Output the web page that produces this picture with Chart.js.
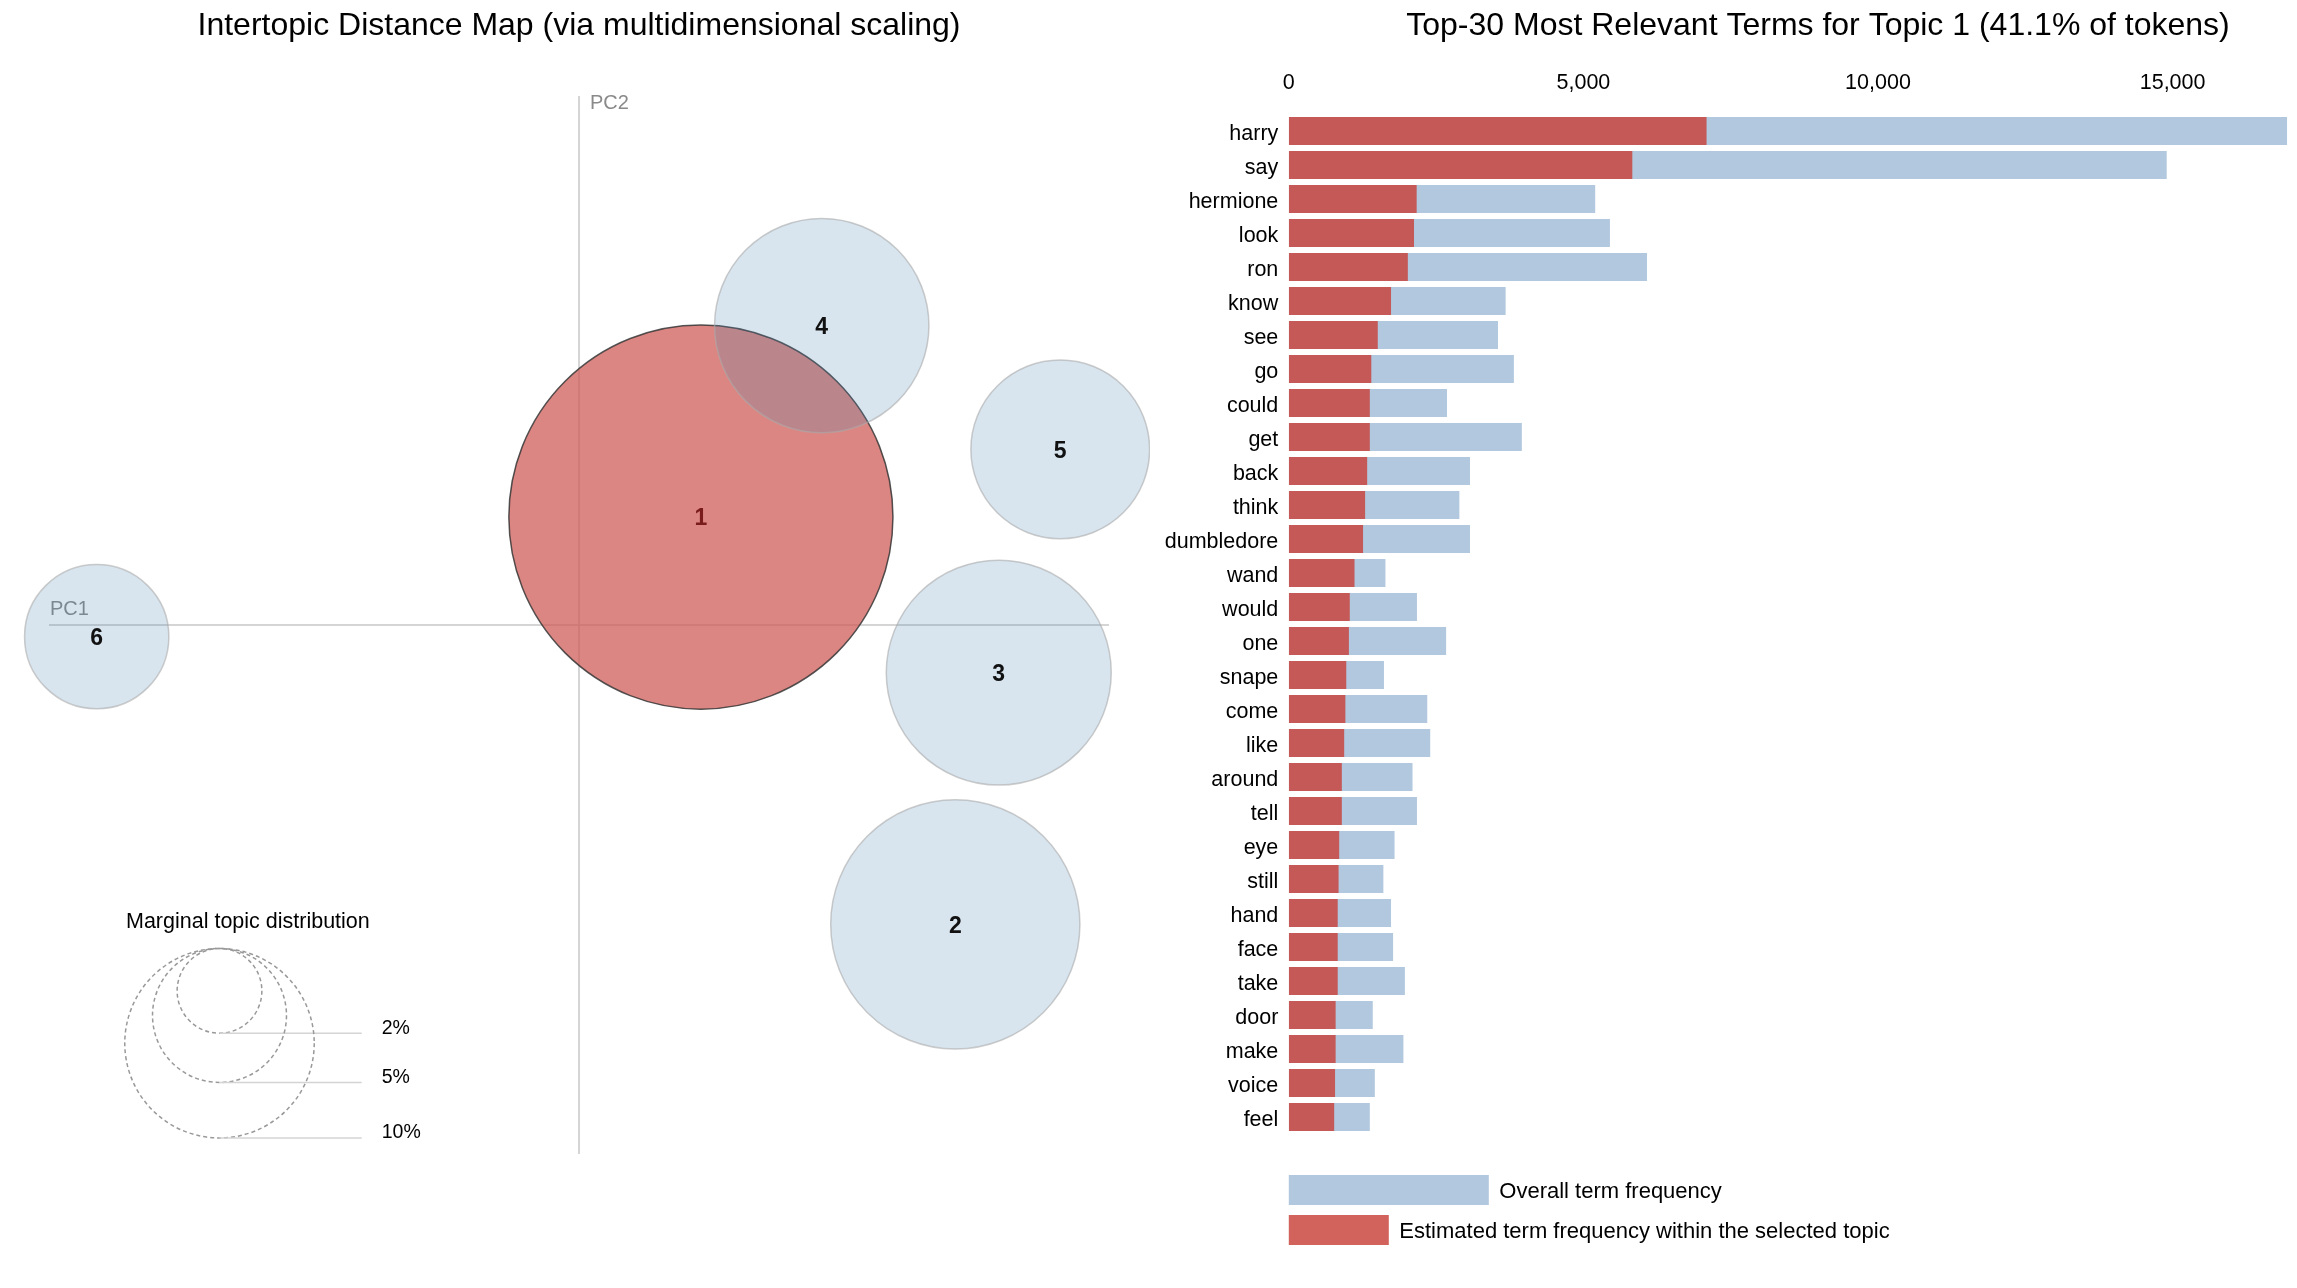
<!DOCTYPE html>
<html><head><meta charset="utf-8">
<script src="https://cdn.jsdelivr.net/npm/chart.js@4.4.1/dist/chart.umd.min.js"></script>
<style>
html,body{margin:0;padding:0;background:#fff;width:2297px;height:1288px;overflow:hidden}
#c1{position:absolute;left:0;top:0}
#c2{position:absolute;left:1150px;top:0}
</style></head><body>
<canvas id="c1" width="1150" height="1288"></canvas>
<canvas id="c2" width="1147" height="1288"></canvas>
<script>
const FONT = '"Liberation Sans", Arial, Helvetica, sans-serif';

// ---- Intertopic distance map data ----
const topicIds = ['1', '2', '3', '4', '5', '6'];
const topicPC1 = [0.115, 0.355, 0.396, 0.229, 0.454, -0.455];
const topicPC2 = [0.102, -0.283, -0.045, 0.283, 0.166, -0.011];
const topicShare = [41.1, 17.3, 14.1, 12.8, 8.9, 5.8]; // % of tokens
const selectedTopic = 0;
const legendShares = [2, 5, 10];
const legendLabels = ['2%', '5%', '10%'];

// ---- Top-30 terms data ----
const terms = ['harry','say','hermione','look','ron','know','see','go','could','get','back','think','dumbledore','wand','would','one','snape','come','like','around','tell','eye','still','hand','face','take','door','make','voice','feel'];
const overallFreq = [16945, 14900, 5200, 5450, 6080, 3680, 3550, 3820, 2685, 3955, 3075, 2895, 3075, 1640, 2175, 2670, 1615, 2350, 2400, 2100, 2175, 1795, 1605, 1735, 1770, 1970, 1425, 1945, 1460, 1375];
const topicFreq = [7090, 5830, 2170, 2125, 2020, 1735, 1510, 1400, 1375, 1375, 1330, 1295, 1260, 1115, 1035, 1020, 975, 960, 940, 900, 900, 855, 845, 830, 830, 830, 795, 795, 785, 770];
const xTicks = [0, 5000, 10000, 15000];

const leftTitle = 'Intertopic Distance Map (via multidimensional scaling)';
const rightTitle = 'Top-30 Most Relevant Terms for Topic 1 (41.1% of tokens)';

// radius proportional to sqrt of topic share
function rScale(chart, share) {
  const w = chart.chartArea ? chart.chartArea.width : 1060;
  return w * 0.02826 * Math.sqrt(share);
}

const leftPlugin = {
  id: 'leftDeco',
  beforeDatasetsDraw(chart) {
    const {ctx, chartArea: ca} = chart;
    const x0 = (ca.left + ca.right) / 2, y0 = (ca.top + ca.bottom) / 2;
    ctx.save();
    ctx.strokeStyle = '#c8c8c8';
    ctx.lineWidth = 1.5;
    ctx.beginPath();
    ctx.moveTo(x0, ca.top); ctx.lineTo(x0, ca.bottom);
    ctx.moveTo(ca.left, y0); ctx.lineTo(ca.right, y0);
    ctx.stroke();
    ctx.fillStyle = '#8a8a8a';
    ctx.font = '20px ' + FONT;
    ctx.textBaseline = 'alphabetic';
    ctx.textAlign = 'left';
    ctx.fillText('PC2', x0 + 11, ca.top + 12.5);
    ctx.fillText('PC1', ca.left + 1, y0 - 10);
    ctx.restore();
  },
  afterDatasetsDraw(chart) {
    const {ctx} = chart;
    const meta = chart.getDatasetMeta(0);
    ctx.save();
    ctx.font = 'bold 23px ' + FONT;
    ctx.textAlign = 'center';
    ctx.textBaseline = 'alphabetic';
    meta.data.forEach((el, i) => {
      ctx.fillStyle = i === selectedTopic ? '#7a1c1c' : '#111';
      ctx.fillText(topicIds[i], el.x, el.y + 8.3);
    });
    // title
    ctx.fillStyle = '#000';
    ctx.font = '32px ' + FONT;
    ctx.fillText(leftTitle, (chart.chartArea.left + chart.chartArea.right) / 2, 35);
    // size legend
    ctx.textAlign = 'left';
    ctx.font = '21.5px ' + FONT;
    ctx.fillText('Marginal topic distribution', 126, 928.3);
    const cx = 219.5, topY = 948.5;
    legendShares.forEach((s, i) => {
      const r = rScale(chart, s);
      ctx.setLineDash([4, 3]);
      ctx.strokeStyle = '#999';
      ctx.lineWidth = 1.5;
      ctx.beginPath();
      ctx.arc(cx, topY + r, r, 0, Math.PI * 2);
      ctx.stroke();
      ctx.setLineDash([]);
      ctx.strokeStyle = '#d4d4d4';
      ctx.beginPath();
      ctx.moveTo(cx, topY + 2 * r); ctx.lineTo(361.7, topY + 2 * r);
      ctx.stroke();
      ctx.fillStyle = '#000';
      ctx.font = '19.5px ' + FONT;
      ctx.fillText(legendLabels[i], 381.7, topY + 2 * r + 0.5);
    });
    ctx.restore();
  }
};

new Chart(document.getElementById('c1'), {
  type: 'bubble',
  data: {
    datasets: [{
      label: 'Topics',
      data: topicPC1.map((x, i) => ({x: x, y: topicPC2[i]})),
      radius: ctx => rScale(ctx.chart, topicShare[ctx.dataIndex]),
      backgroundColor: ctx => ctx.dataIndex === selectedTopic ? 'rgba(206,92,86,0.74)' : 'rgba(70,130,180,0.21)',
      borderColor: ctx => ctx.dataIndex === selectedTopic ? 'rgba(55,55,55,0.85)' : 'rgba(170,170,170,0.6)',
      borderWidth: 1.5,
      clip: false
    }]
  },
  options: {
    responsive: false,
    animation: false,
    events: [],
    layout: {autoPadding: false, padding: {left: 49, right: 41, top: 96, bottom: 134}},
    scales: {
      x: {type: 'linear', min: -0.5, max: 0.5, display: false},
      y: {type: 'linear', min: -0.5, max: 0.5, display: false}
    },
    plugins: {legend: {display: false}, tooltip: {enabled: false}, title: {display: false}}
  },
  plugins: [leftPlugin]
});

const rightPlugin = {
  id: 'rightDeco',
  afterDraw(chart) {
    const {ctx, chartArea: ca} = chart;
    ctx.save();
    ctx.fillStyle = '#000';
    ctx.font = '32px ' + FONT;
    ctx.textAlign = 'center';
    ctx.textBaseline = 'alphabetic';
    ctx.fillText(rightTitle, 668, 35);
    const ds = chart.data.datasets;
    ctx.textAlign = 'left';
    ctx.font = '22px ' + FONT;
    ctx.fillStyle = ds[1].backgroundColor;
    ctx.fillRect(ca.left, 1175, 200, 30);
    ctx.fillStyle = '#000';
    ctx.fillText(ds[1].label, ca.left + 210.5, 1197.8);
    ctx.fillStyle = ds[0].backgroundColor;
    ctx.fillRect(ca.left, 1215, 100, 30);
    ctx.fillStyle = '#000';
    ctx.fillText(ds[0].label, ca.left + 110.5, 1237.8);
    ctx.restore();
  }
};

new Chart(document.getElementById('c2'), {
  type: 'bar',
  data: {
    labels: terms,
    datasets: [
      {label: 'Estimated term frequency within the selected topic', data: topicFreq, backgroundColor: 'rgba(200,66,59,0.83)', grouped: false, categoryPercentage: 1, barPercentage: 0.8235, borderWidth: 0},
      {label: 'Overall term frequency', data: overallFreq, backgroundColor: '#b1c8de', grouped: false, categoryPercentage: 1, barPercentage: 0.8235, borderWidth: 0}
    ]
  },
  options: {
    indexAxis: 'y',
    responsive: false,
    animation: false,
    events: [],
    layout: {padding: {left: 0, right: 9.8, top: 0, bottom: 154}},
    scales: {
      x: {
        position: 'top', min: 0, max: Math.max(...overallFreq),
        grid: {display: false, drawTicks: false}, border: {display: false},
        afterBuildTicks: s => { s.ticks = xTicks.map(v => ({value: v})); },
        ticks: {padding: 18, color: '#000', font: {size: 21.5, family: FONT}, callback: v => Number(v).toLocaleString('en-US')},
        afterFit: s => { s.height = 114; }
      },
      y: {
        grid: {display: false, drawTicks: false}, border: {display: false},
        ticks: {padding: 10.5, labelOffset: 3.5, color: '#000', autoSkip: false, font: {size: 21.5, family: FONT}},
        afterFit: s => { s.width = 138.8; }
      }
    },
    plugins: {legend: {display: false}, tooltip: {enabled: false}, title: {display: false}}
  },
  plugins: [rightPlugin]
});
</script>
</body></html>
